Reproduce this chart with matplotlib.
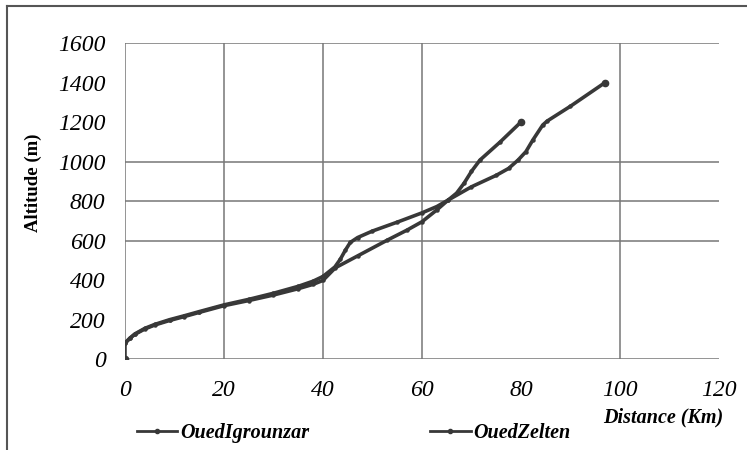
import numpy as np
import matplotlib.pyplot as plt
from matplotlib.lines import Line2D

# Profils en long des oueds (distance en km, altitude en m)
dist_igrounzar = [0, 0, 1, 2, 4, 6, 9, 12, 15, 20, 25, 30, 35, 38, 40, 42.5, 47, 53, 57, 60, 63, 65.3,
                  70, 75, 77.5, 79.4, 81, 82.4, 84.4, 85.3, 90, 97]
alt_igrounzar = [0, 80, 105, 125, 152, 172, 195, 215, 236, 270, 296, 324, 356, 378, 398, 462, 522, 602, 653,
                 695, 755, 805, 872, 930, 965, 1007, 1050, 1109, 1185, 1205, 1280, 1400]

dist_zelten = [0, 1, 2, 4, 6, 9, 12, 15, 20, 25, 30, 35, 38, 40, 42.4, 43.5, 44.5, 45.5, 47, 50, 55, 60, 63,
               65.3, 67, 68.5, 70, 71.7, 75.8, 80]
alt_zelten = [80, 106, 127, 155, 175, 199, 219, 240, 274, 302, 333, 368, 394, 418, 466, 505, 550, 590, 615,
              648, 693, 740, 772, 805, 840, 890, 950, 1007, 1099, 1200]

xgrid = [0, 20, 40, 60, 100]
ygrid = [0, 600, 800, 1000, 1600]

plt.rcParams['font.family'] = ['Liberation Serif', 'DejaVu Serif']

fig = plt.figure(figsize=(7.47, 4.5), dpi=100)
ax = fig.add_axes([0.1673, 0.2022, 0.7952, 0.7022])

col = "#383838"
ax.plot(dist_igrounzar, alt_igrounzar, color=col, lw=2.6, marker='o', ms=2.2, label='OuedIgrounzar', zorder=3)
ax.plot(dist_zelten, alt_zelten, color=col, lw=2.6, marker='o', ms=2.2, label='OuedZelten', zorder=3)
# points extrêmes un peu plus visibles
ax.plot([dist_igrounzar[0], dist_igrounzar[-1], dist_zelten[-1]],
        [alt_igrounzar[0], alt_igrounzar[-1], alt_zelten[-1]], 'o', color=col, ms=4.5, zorder=4)

# grille (certaines lignes manquent dans l'original)
for gy in ygrid:
    ax.plot([0, 120], [gy, gy], color="#777777", lw=1.1, zorder=1)
for gx in xgrid:
    ax.plot([gx, gx], [0, 1600], color="#777777", lw=1.1, zorder=1)

ax.set_xlim(0, 120)
ax.set_ylim(0, 1600)
ax.set_xticks(np.arange(0, 121, 20))
ax.set_yticks(np.arange(0, 1601, 200))
for s in ax.spines.values():
    s.set_visible(False)
ax.tick_params(length=0, labelsize=17, pad=14)
ax.tick_params(axis='x', pad=15)
for lab in ax.get_xticklabels() + ax.get_yticklabels():
    lab.set_fontstyle('italic')

fig.text(603 / 747, 1 - 417 / 450, 'Distance (Km)', fontsize=14.5, fontweight='bold',
         fontstyle='italic', ha='left', va='center')
fig.text(33 / 747, 1 - 183 / 450, 'Altitude (m)', fontsize=13.5, fontweight='bold',
         rotation=90, ha='center', va='center')

leg = fig.legend(loc='center left', bbox_to_anchor=(137 / 747, 1 - 433 / 450), ncol=2,
                 frameon=False, borderpad=0, borderaxespad=0, handlelength=2.0,
                 handletextpad=0.15, columnspacing=6.0,
                 prop={'size': 14.5, 'weight': 'bold', 'style': 'italic'})
for h in leg.get_lines():
    h.set_linewidth(2.0)
    h.set_markersize(3)

# cadre
fig.add_artist(Line2D([7 / 747, 7 / 747], [0, 1 - 6 / 450], color="#555555", lw=1.5))
fig.add_artist(Line2D([7 / 747, 1], [1 - 6 / 450, 1 - 6 / 450], color="#555555", lw=1.5))

fig.savefig("out.png", dpi=100)
